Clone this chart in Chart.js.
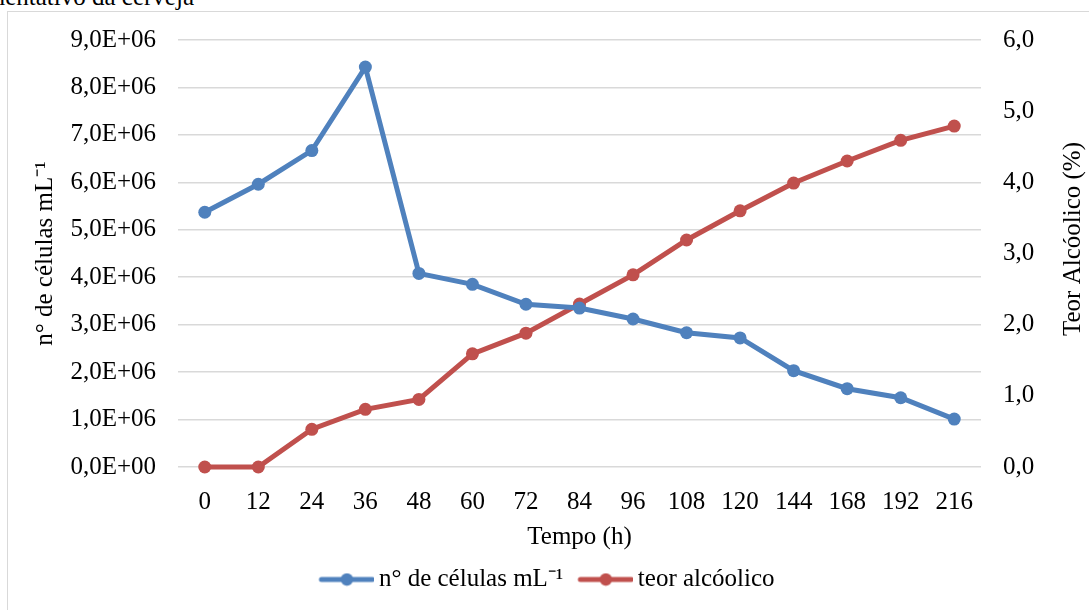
<!DOCTYPE html>
<html>
<head>
<meta charset="utf-8">
<script src="https://cdn.jsdelivr.net/npm/chart.js@4.4.0/dist/chart.umd.min.js"></script>
<style>
  html, body { margin: 0; padding: 0; background: #fff; overflow: hidden; }
  #wrap { position: relative; width: 1089px; height: 610px; overflow: hidden; }
  #frame { position: absolute; left: 7px; top: 11px; width: 1200px; height: 700px; border: 1.5px solid #d9d9d9; }
  #title { position: absolute; left: -42px; top: -16px; font: 25px "Liberation Serif", "Times New Roman", serif; line-height: 25px; color: #000; white-space: nowrap; }
  #chart { position: absolute; left: 0; top: 0; }
</style>
</head>
<body>
<div id="wrap">
  <div id="frame"></div>
  <div id="title">fermentativo da cerveja</div>
  <canvas id="chart" width="1089" height="610"></canvas>
</div>
<script>
const categories = ['0', '12', '24', '36', '48', '60', '72', '84', '96', '108', '120', '144', '168', '192', '216'];
const cellCounts = [5.37e6, 5.96e6, 6.67e6, 8.43e6, 4.08e6, 3.85e6, 3.43e6, 3.35e6, 3.12e6, 2.83e6, 2.72e6, 2.03e6, 1.65e6, 1.46e6, 1.01e6];
const alcoholContent = [0, 0, 0.53, 0.81, 0.95, 1.59, 1.88, 2.29, 2.70, 3.19, 3.60, 3.99, 4.30, 4.59, 4.79];

const seriesNames = ['n° de células mL⁻¹', 'teor alcóolico'];
const axisTitles = ['n° de células mL⁻¹', 'Teor Alcóolico (%)', 'Tempo (h)'];

const BLUE = '#4F81BD';
const RED = '#C0504D';
const FONT = '"Liberation Serif", "Times New Roman", serif';
const FS = 25;

/* legend marker: line with a dot, drawn on a small canvas */
function legendLine(color) {
    const c = document.createElement('canvas');
    c.width = 68;
    c.height = 14;
    const g = c.getContext('2d');
    g.strokeStyle = color;
    g.lineWidth = 5;
    g.lineCap = 'round';
    g.beginPath();
    g.moveTo(15, 7);
    g.lineTo(66, 7);
    g.stroke();
    g.fillStyle = color;
    g.beginPath();
    g.arc(40.5, 7, 6.2, 0, Math.PI * 2);
    g.fill();
    return c;
}
const legendImgs = [legendLine(BLUE), legendLine(RED)];

/* excel style number formats */
const sciLabel = v => {
    if (v === 0) return '0,0E+00';
    return (v / 1e6).toFixed(1).replace('.', ',') + 'E+06';
};
const decLabel = v => v.toFixed(1).replace('.', ',');

/* right axis title reads bottom to top, so it is drawn here */
const rightTitle = {
    id: 'rightTitle',
    afterDraw(chart) {
        const ctx = chart.ctx;
        ctx.save();
        ctx.translate(1073, 239);
        ctx.rotate(-Math.PI / 2);
        ctx.font = FS + 'px ' + FONT;
        ctx.fillStyle = '#000';
        ctx.textAlign = 'center';
        ctx.textBaseline = 'middle';
        ctx.fillText(axisTitles[1], 0, 0);
        ctx.restore();
    }
};

new Chart(document.getElementById('chart'), {
    type: 'line',
    data: {
        labels: categories,
        datasets: [{
            label: seriesNames[0],
            data: cellCounts,
            yAxisID: 'y',
            borderColor: BLUE,
            backgroundColor: BLUE,
            borderWidth: 5,
            pointRadius: 6.5,
            pointHoverRadius: 6.5,
            pointBorderWidth: 0,
            tension: 0,
            clip: false,
        }, {
            label: seriesNames[1],
            data: alcoholContent,
            yAxisID: 'y1',
            borderColor: RED,
            backgroundColor: RED,
            borderWidth: 5,
            pointRadius: 6.5,
            pointHoverRadius: 6.5,
            pointBorderWidth: 0,
            tension: 0,
            clip: false,
        }],
    },
    options: {
        responsive: false,
        animation: false,
        layout: { padding: { top: 40, bottom: 8, left: 0, right: 0 } },
        plugins: {
            tooltip: { enabled: false },
            legend: {
                position: 'bottom',
                labels: {
                    usePointStyle: true,
                    pointStyleWidth: 52,
                    padding: 10,
                    color: '#000',
                    font: { family: FONT, size: FS },
                    generateLabels: chart => Chart.defaults.plugins.legend.labels.generateLabels(chart)
                        .map((l, i) => ({ ...l, pointStyle: legendImgs[i] })),
                },
            },
        },
        scales: {
            x: {
                offset: true,
                grid: { display: false, drawTicks: false },
                border: { display: false },
                ticks: { color: '#000', font: { family: FONT, size: FS }, padding: 20, maxRotation: 0, autoSkip: false },
                title: { display: true, text: axisTitles[2], color: '#000', font: { family: FONT, size: FS }, padding: { top: 0, bottom: 5 } },
                afterFit: s => { s.height = 90; },
            },
            y: {
                position: 'left',
                min: 0,
                max: 9e6,
                grid: { color: '#d9d9d9', lineWidth: 1.5, drawTicks: false },
                border: { display: false },
                ticks: { stepSize: 1e6, color: '#000', font: { family: FONT, size: FS }, padding: 22, callback: sciLabel },
                title: { display: true, text: axisTitles[0], color: '#000', font: { family: FONT, size: FS }, padding: { top: 30, bottom: 0 } },
                afterFit: s => { s.width = 178; },
            },
            y1: {
                position: 'right',
                min: 0,
                max: 6,
                grid: { display: false, drawTicks: false },
                border: { display: false },
                ticks: { stepSize: 1, color: '#000', font: { family: FONT, size: FS }, padding: 22, callback: decLabel },
                afterFit: s => { s.width = 108; },
            },
        },
    },
    plugins: [rightTitle],
});
</script>
</body>
</html>
